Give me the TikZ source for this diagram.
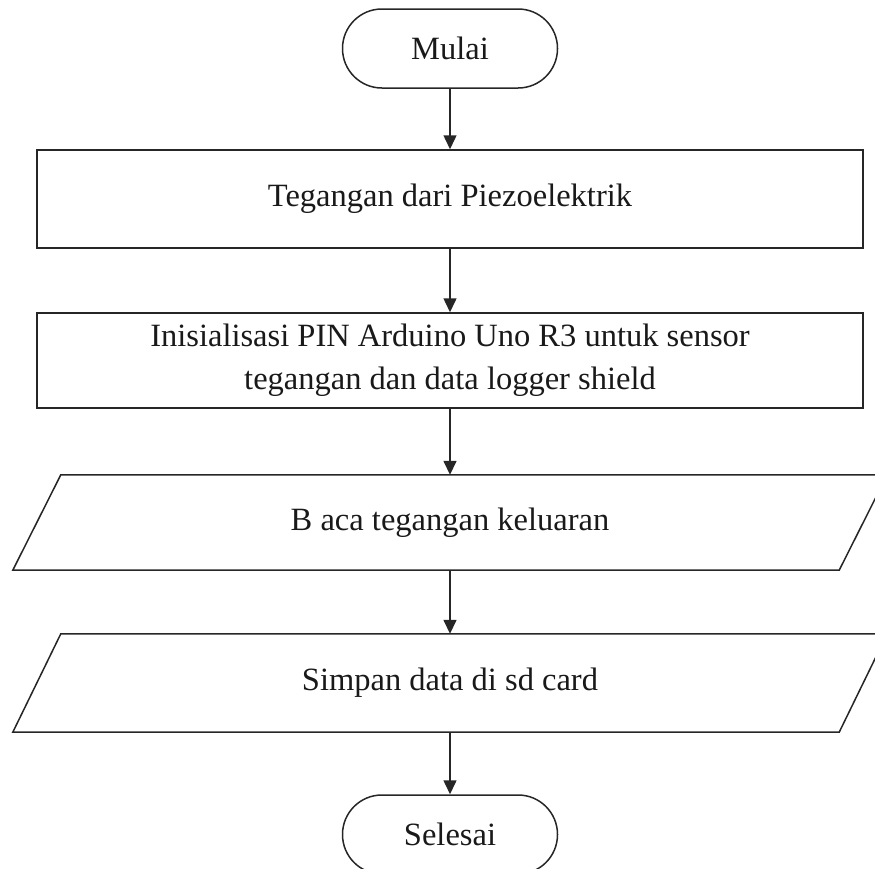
\documentclass[tikz,border=0pt]{standalone}
\usepackage{fontspec}
\setmainfont{Liberation Serif}
\usetikzlibrary{arrows.meta}
\begin{document}
\begin{tikzpicture}[x=1pt,y=-1pt,
  every node/.style={font=\fontsize{32.5}{43}\selectfont, inner sep=0pt, text=black!90},
  line/.style={draw=black!85, line width=1.5pt},
  term/.style={line, rounded corners=39.4pt, minimum width=215pt, minimum height=79pt},
  procbox/.style={line, minimum width=826pt},
  iobox/.style={minimum width=826pt},
  arr/.style={draw=black!85, line width=1.5pt, -{Triangle[length=14pt,width=13pt]}}
]
\useasboundingbox (0,0) rectangle (875,868);
\clip (0,0) rectangle (875,868);

\node[term] (mulai) at (450,48.5) {Mulai};
\node[procbox, minimum height=98pt] (b1) at (450,199) {Tegangan dari Piezoelektrik};
\node[procbox, minimum height=95pt, align=center] (b2) at (450,360.5) {Inisialisasi PIN Arduino Uno R3 untuk sensor\\tegangan dan data logger shield};
\node[iobox, minimum height=95pt] (p1) at (450,522.5) {B aca tegangan keluaran};
\node[iobox, minimum height=98pt] (p2) at (450,683) {Simpan data di sd card};
\node[term] (selesai) at (450,834.5) {Selesai};

\draw[line] ([xshift=24pt]p1.north west) -- ([xshift=24pt]p1.north east) -- ([xshift=-24pt]p1.south east) -- ([xshift=-24pt]p1.south west) -- cycle;
\draw[line] ([xshift=24pt]p2.north west) -- ([xshift=24pt]p2.north east) -- ([xshift=-24pt]p2.south east) -- ([xshift=-24pt]p2.south west) -- cycle;

\draw[arr] (mulai) -- (b1);
\draw[arr] (b1) -- (b2);
\draw[arr] (b2) -- (p1);
\draw[arr] (p1) -- (p2);
\draw[arr] (p2) -- (selesai);
\end{tikzpicture}
\end{document}
